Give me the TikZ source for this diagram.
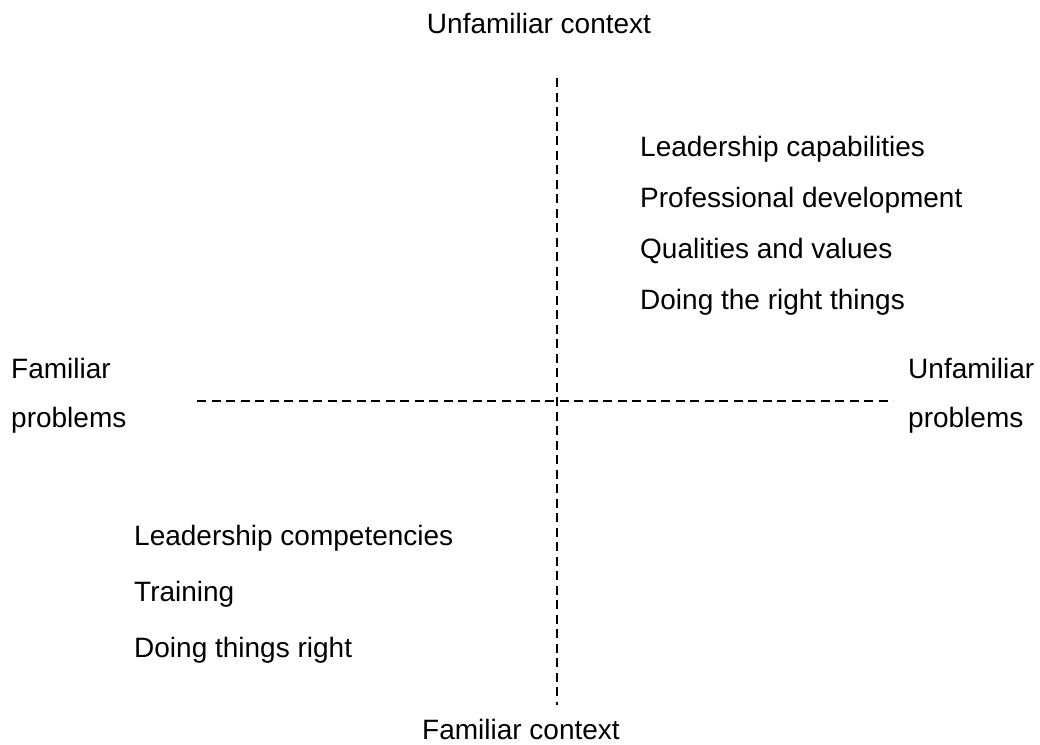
\documentclass[tikz,border=0pt]{standalone}
\usepackage{fontspec}
\setmainfont{Liberation Sans}
\begin{document}
\begin{tikzpicture}[x=1pt,y=-1pt,
  lbl/.style={inner sep=0pt,font=\fontsize{28}{33}\selectfont,anchor=base west},
  lblc/.style={inner sep=0pt,font=\fontsize{28}{33}\selectfont,anchor=base},
  axis/.style={line width=2.2pt,dash pattern=on 9pt off 5.5pt}]
\useasboundingbox (0,0) rectangle (1040,744);
% axes
\coordinate (vt) at (557,78);
\coordinate (vb) at (557,705);
\coordinate (hl) at (197,401);
\coordinate (hr) at (893,401);
\draw[axis] (vt) -- (vb);
\draw[axis] (hl) -- (hr);
% axis labels
\node[lblc] (uc) at (539,33) {Unfamiliar context};
\node[lblc] (fc) at (521,739) {Familiar context};
\node[lbl] (fp1) at (11,378) {Familiar};
\node[lbl] (fp2) at (11,427) {problems};
\node[lbl] (up1) at (908,378) {Unfamiliar};
\node[lbl] (up2) at (908,427) {problems};
% upper right quadrant
\node[lbl] (q1) at (640,156) {Leadership capabilities};
\node[lbl] (q2) at (640,207) {Professional development};
\node[lbl] (q3) at (640,258) {Qualities and values};
\node[lbl] (q4) at (640,309) {Doing the right things};
% lower left quadrant
\node[lbl] (p1) at (134,545) {Leadership competencies};
\node[lbl] (p2) at (134,601) {Training};
\node[lbl] (p3) at (134,657) {Doing things right};
\end{tikzpicture}
\end{document}
